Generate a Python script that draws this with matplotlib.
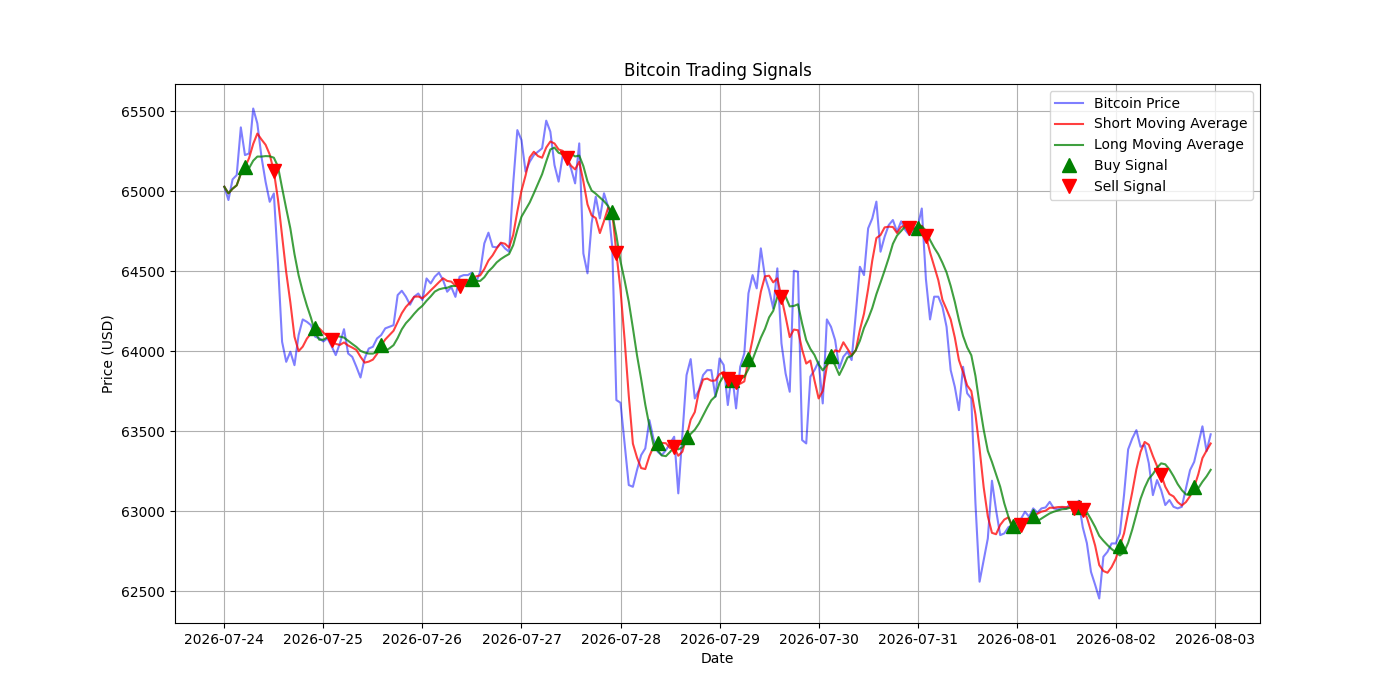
import numpy as np
import pandas as pd
import matplotlib
matplotlib.use("Agg")
import matplotlib.pyplot as plt

start_date = "2026-07-24"
short_window = 5
long_window = 10

price = [
    65027, 64944, 65073, 65100, 65398, 65225, 65235, 65516, 65423, 65214,
    65058, 64933, 64985, 64550, 64058, 63933, 63996, 63912, 64100, 64198,
    64183, 64162, 64090, 64080, 64060, 64080, 64030, 63975, 64048, 64137,
    63985, 63964, 63902, 63835, 63954, 64016, 64027, 64079, 64100, 64142,
    64152, 64162, 64350, 64377, 64340, 64290, 64340, 64360, 64319, 64454,
    64423, 64465, 64490, 64444, 64371, 64400, 64339, 64465, 64475, 64475,
    64490, 64430, 64496, 64673, 64740, 64652, 64648, 64673, 64642, 64621,
    65048, 65381, 65319, 65121, 65183, 65225, 65246, 65267, 65440, 65371,
    65163, 65059, 65225, 65204, 65142, 65048, 65298, 64610, 64486, 64798,
    64965, 64829, 64986, 64902, 64650, 63694, 63677, 63423, 63163, 63152,
    63257, 63350, 63392, 63569, 63450, 63371, 63350, 63381, 63423, 63465,
    63111, 63480, 63850, 63950, 63704, 63756, 63850, 63881, 63881, 63715,
    63954, 63913, 63663, 63860, 63642, 63902, 63986, 64361, 64475, 64392,
    64642, 64465, 64382, 64267, 64517, 64048, 63860, 63746, 64502, 64496,
    63444, 63423, 63840, 63881, 63934, 63673, 64198, 64152, 64069, 63892,
    63965, 63996, 63944, 64230, 64527, 64475, 64767, 64829, 64934, 64621,
    64715, 64788, 64819, 64746, 64811, 64757, 64725, 64767, 64777, 64891,
    64450, 64198, 64340, 64340, 64277, 64152, 63881, 63777, 63631, 63902,
    63736, 63704, 63050, 62559, 62694, 62829, 63190, 63006, 62850, 62861,
    62900, 62910, 62933, 62950, 62996, 62965, 63017, 62990, 63017, 63023,
    63058, 63017, 63011, 63023, 63017, 63047, 62991, 63065, 62900, 62800,
    62620, 62540, 62454, 62715, 62746, 62798, 62798, 62860, 63100, 63386,
    63454, 63506, 63402, 63413, 63300, 63100, 63194, 63131, 63038, 63069,
    63027, 63017, 63027, 63142, 63256, 63308, 63420, 63530, 63375, 63480,
]

dates = pd.date_range(start=start_date, periods=len(price), freq="h")
s = pd.Series(price, index=dates, dtype=float)
short_ma = s.rolling(window=short_window, min_periods=1).mean()
long_ma = s.rolling(window=long_window, min_periods=1).mean()

signal = np.zeros(len(s))
signal[short_window:] = np.where(
    short_ma.values[short_window:] > long_ma.values[short_window:], 1.0, 0.0)
positions = pd.Series(signal, index=dates).diff()
buy = positions == 1.0
sell = positions == -1.0

fig, ax = plt.subplots(figsize=(14, 7), dpi=100)
ax.plot(dates, s.values, color="blue", alpha=0.5, label="Bitcoin Price")
ax.plot(dates, short_ma.values, color="red", alpha=0.75, label="Short Moving Average")
ax.plot(dates, long_ma.values, color="green", alpha=0.75, label="Long Moving Average")
ax.plot(dates[buy.values], short_ma[buy].values, "^", color="g", markersize=10,
        linestyle="None", label="Buy Signal")
ax.plot(dates[sell.values], short_ma[sell].values, "v", color="r", markersize=10,
        linestyle="None", label="Sell Signal")
ax.set_title("Bitcoin Trading Signals")
ax.set_xlabel("Date")
ax.set_ylabel("Price (USD)")
ax.legend(loc="upper right")
ax.grid(True)
fig.savefig("out.png", dpi=100)
